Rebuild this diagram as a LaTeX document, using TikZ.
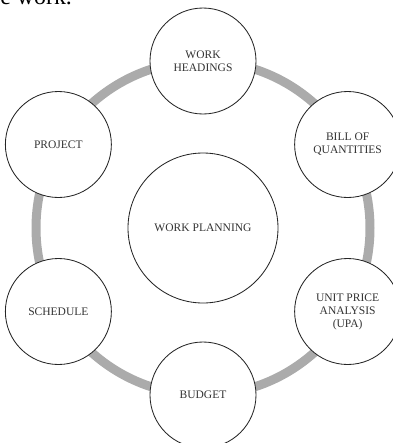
\documentclass[tikz,border=0pt]{standalone}
\usepackage{fontspec}
\setmainfont{Liberation Serif}
\usetikzlibrary{calc, shapes}
\tikzset{
	stage/.style={circle, draw=black!85, line width=0.6pt, fill=white, minimum size=2.65cm, inner sep=0pt, align=center, text=black!80, font=\fontsize{8.2}{9.3}\selectfont},
	hub/.style={stage, minimum size=3.75cm},
	ring/.style={draw=black!33, line width=6.4pt}
}
\begin{document}
\begin{tikzpicture}
				\useasboundingbox (0,0) rectangle (9.825,-11.075);
				%Text of the page, cut off at the top
				\node [anchor=base west, inner sep=0pt, font=\fontsize{17}{20}\selectfont] (pagetext) at (0,-0.11) {e work.};
				%Center of the ring
				\coordinate (center) at (5.075,-5.7);
				%Gray ring behind the circles
				\draw [ring] (center) circle (4.175cm);
				%Middle circle
				\node [hub] (planning) at (center) {WORK PLANNING};
				%Outer circles, one every 60 degrees
				\node [stage] (headings) at ($(center)+(90:4.175)$) {WORK\\HEADINGS};
				\node [stage] (bill) at ($(center)+(30:4.175)$) {BILL OF\\QUANTITIES};
				\node [stage] (upa) at ($(center)+(-30:4.175)$) {UNIT PRICE\\ANALYSIS\\(UPA)};
				\node [stage] (budget) at ($(center)+(-90:4.175)$) {BUDGET};
				\node [stage] (schedule) at ($(center)+(-150:4.175)$) {SCHEDULE};
				\node [stage] (project) at ($(center)+(150:4.175)$) {PROJECT};
\end{tikzpicture}
\end{document}
